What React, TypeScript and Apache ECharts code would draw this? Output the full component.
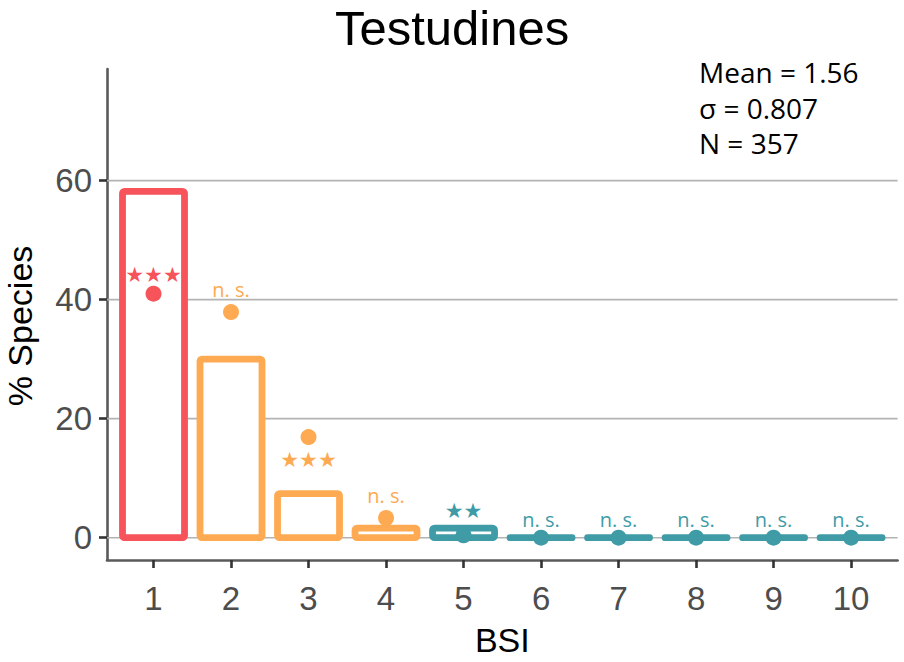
import { useEffect, useRef } from "react";
import * as echarts from "echarts";

// ---- data ----
const categories = [1, 2, 3, 4, 5, 6, 7, 8, 9, 10];
const observedPct = [58.2, 30.0, 7.4, 1.6, 1.6, 0, 0, 0, 0, 0];
const expectedPct = [41.0, 37.9, 16.9, 3.3, 0.4, 0, 0, 0, 0, 0];
const groups = ["over", "mid", "mid", "mid", "under", "under", "under", "under", "under", "under"];
const significance = ["★★★", "n. s.", "★★★", "n. s.", "★★", "n. s.", "n. s.", "n. s.", "n. s.", "n. s."];
const significanceY = [44.2, 41.7, 13.0, 7.1, 4.4, 3.1, 3.1, 3.1, 3.1, 3.1];
const yTicks = [0, 20, 40, 60];
const statsLines = ["Mean = 1.56", "σ = 0.807", "N = 357"];
const chartTitle = "Testudines";
const xTitle = "BSI";
const yTitle = "% Species";

const groupColor: Record<string, string> = {
  over: "#F6535A",
  mid: "#FDAA52",
  under: "#3F9BA6",
};

const X_MIN = 0.4;
const X_MAX = 10.6;
const Y_MIN = -3.75;
const Y_MAX = 78.75;
const HALF_W = 0.4;

export default function App() {
  const ref = useRef<HTMLDivElement>(null);

  useEffect(() => {
    if (!ref.current) return;
    const chart = echarts.init(ref.current, undefined, { renderer: "svg" });

    const barData = categories.map((c, i) => [c, observedPct[i], i]);
    const dotData = categories.map((c, i) => ({
      value: [c, expectedPct[i]],
      itemStyle: { color: groupColor[groups[i]], opacity: 1 },
    }));
    const sigData = categories.map((c, i) => [c, significanceY[i], i]);
    const gridData = yTicks.map((v) => [X_MIN, v]);

    const axisFont = "'Liberation Sans', Arial, sans-serif";

    chart.setOption({
      animation: false,
      title: {
        text: chartTitle,
        left: "center",
        top: -2,
        textStyle: {
          fontSize: 49,
          fontWeight: "normal",
          color: "#000",
          fontFamily: axisFont,
        },
      },
      grid: { left: 107, right: 6.4, top: 69, bottom: 102, containLabel: false },
      xAxis: {
        type: "value",
        min: X_MIN,
        max: X_MAX,
        name: xTitle,
        nameLocation: "middle",
        nameGap: 63,
        nameTextStyle: { fontSize: 34, color: "#000", fontFamily: axisFont },
        axisLine: { show: true, onZero: false, lineStyle: { color: "#5a5a5a", width: 2.6 } },
        axisTick: {
          show: true,
          customValues: categories,
          length: 8,
          lineStyle: { color: "#333", width: 2.6 },
        },
        axisLabel: {
          customValues: categories,
          fontSize: 33,
          color: "#4d4d4d",
          margin: 22,
          fontFamily: axisFont,
        },
        splitLine: { show: false },
      },
      yAxis: {
        type: "value",
        min: Y_MIN,
        max: Y_MAX,
        axisLine: { show: true, onZero: false, lineStyle: { color: "#5a5a5a", width: 2.6 } },
        axisTick: {
          show: true,
          customValues: yTicks,
          length: 8,
          lineStyle: { color: "#333", width: 2.6 },
        },
        axisLabel: {
          customValues: yTicks,
          fontSize: 33,
          color: "#4d4d4d",
          margin: 15,
          fontFamily: axisFont,
        },
        splitLine: { show: false },
      },
      graphic: [
        {
          type: "text",
          x: 20,
          y: 326,
          rotation: Math.PI / 2,
          style: {
            text: yTitle,
            fontSize: 34,
            fill: "#000",
            fontFamily: axisFont,
            align: "center",
            verticalAlign: "middle",
          },
        },
        ...statsLines.map((t, i) => ({
          type: "text",
          x: 699,
          y: 72 + i * 35.7,
          style: {
            text: t,
            fontSize: 28,
            fill: "#000",
            fontFamily: "'Open Sans', 'Noto Sans', sans-serif",
            align: "left",
            verticalAlign: "middle",
          },
        })),
      ],
      series: [
        {
          type: "custom",
          name: "grid",
          z: 1,
          silent: true,
          data: gridData,
          renderItem: (_p: any, api: any) => {
            const v = api.value(1);
            const a = api.coord([X_MIN, v]);
            const b = api.coord([X_MAX, v]);
            return {
              type: "line",
              shape: { x1: a[0], y1: a[1], x2: b[0], y2: b[1] },
              style: { stroke: "#b3b3b3", lineWidth: 1.6 },
            };
          },
        },
        {
          type: "custom",
          name: "observed",
          z: 2,
          data: barData,
          renderItem: (_p: any, api: any) => {
            const x = api.value(0);
            const v = api.value(1);
            const idx = api.value(2);
            const color = groupColor[groups[idx]];
            const p1 = api.coord([x - HALF_W, v]);
            const p2 = api.coord([x + HALF_W, 0]);
            const h = p2[1] - p1[1];
            if (h < 1) {
              return {
                type: "line",
                shape: { x1: p1[0], y1: p2[1], x2: p2[0], y2: p2[1] },
                style: { stroke: color, lineWidth: 6.8, lineCap: "round" },
              };
            }
            return {
              type: "rect",
              shape: { x: p1[0], y: p1[1], width: p2[0] - p1[0], height: h, r: 2 },
              style: { fill: "#fff", stroke: color, lineWidth: 6.8, lineJoin: "round" },
            };
          },
        },
        {
          type: "scatter",
          name: "expected",
          z: 3,
          symbol: "circle",
          symbolSize: 16,
          data: dotData,
        },
        {
          type: "custom",
          name: "significance",
          z: 4,
          silent: true,
          data: sigData,
          renderItem: (_p: any, api: any) => {
            const x = api.value(0);
            const y = api.value(1);
            const idx = api.value(2);
            const p = api.coord([x, y]);
            const txt = significance[idx];
            const isStar = txt.indexOf("★") >= 0;
            return {
              type: "text",
              x: p[0],
              y: p[1],
              style: {
                text: txt,
                fill: groupColor[groups[idx]],
                fontSize: isStar ? 21 : 20,
                fontFamily: isStar ? "'DejaVu Sans', sans-serif" : "'Open Sans', 'Noto Sans', sans-serif",
                align: "center",
                verticalAlign: "middle",
              },
            };
          },
        },
      ],
    });

    return () => {
      chart.dispose();
    };
  }, []);

  return (
    <div
      ref={ref}
      style={{ position: "fixed", left: 0, top: 0, width: 904, height: 662, background: "#fff" }}
    />
  );
}
